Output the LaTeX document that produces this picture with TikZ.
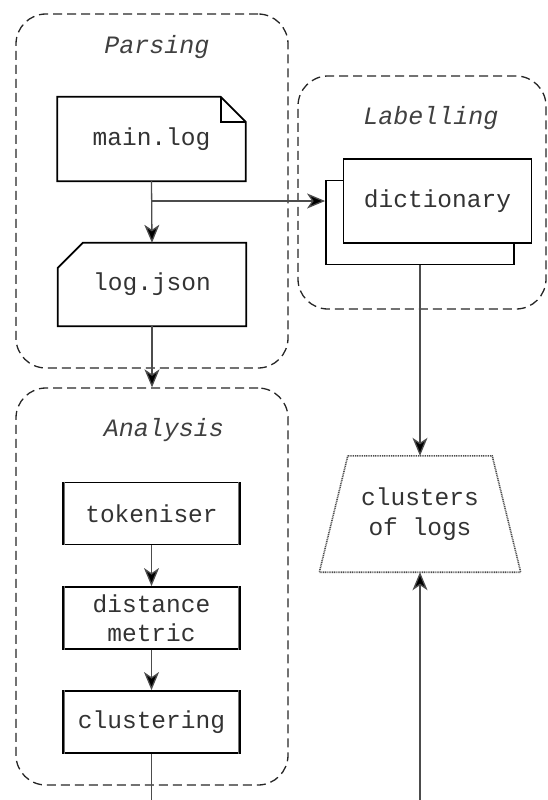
\documentclass[tikz,border=0pt]{standalone}
\usepackage{fontspec}
\setmonofont{Liberation Mono}
\usetikzlibrary{arrows.meta,calc}

\tikzset{
  x=1pt, y=-1pt,
  group/.style={draw=black!85, line width=1.3pt, dash pattern=on 9pt off 5pt,
    rounded corners=30pt, minimum width=#1, inner sep=0pt},
  grouptitle/.style={font=\ttfamily\itshape\fontsize{25}{28}\selectfont, text=black!75},
  boxtext/.style={font=\ttfamily\fontsize{24.5}{29.5}\selectfont, text=black!80,
    inner sep=0pt, align=center},
  docbox/.style={boxtext, minimum width=188pt, minimum height=84pt},
  procbox/.style={boxtext, draw=black, line width=1.8pt, fill=white,
    minimum width=177pt, minimum height=62pt},
  stackbox/.style={boxtext, draw=black, line width=1.8pt, fill=white,
    minimum width=188pt, minimum height=84pt},
  edge/.style={draw=black!70, line width=1.3pt},
  arr/.style={edge, -{Stealth[length=18pt, width=15pt, inset=5pt, fill=black]}},
  outline/.style={draw=black, line width=1.8pt, line join=miter},
}

\begin{document}
\begin{tikzpicture}
\useasboundingbox (0,0) rectangle (547,800);
\clip (0,0) rectangle (547,800);

% ---------- group frames ----------
\node[group=272pt, minimum height=354pt] (parsing) at (152,191) {};
\node[group=248pt, minimum height=233pt] (labelling) at (422,192.5) {};
\node[group=272pt, minimum height=397pt] (analysis) at (152,586.5) {};

\node[grouptitle] at (157,47) {Parsing};
\node[grouptitle] at (431,118) {Labelling};
\node[grouptitle] at (164,430) {Analysis};

% ---------- parsing ----------
\node[docbox] (mainlog) at (151.5,139) {main.log};
\draw[outline, fill=white]
  (mainlog.north west) -- ([xshift=-25pt]mainlog.north east)
  -- ([yshift=-25pt]mainlog.north east) -- (mainlog.south east)
  -- (mainlog.south west) -- cycle;
\draw[outline] ([xshift=-25pt]mainlog.north east)
  -- ([xshift=-25pt, yshift=-25pt]mainlog.north east)
  -- ([yshift=-25pt]mainlog.north east);
\node[docbox] at (mainlog.center) {main.log};

\node[docbox, minimum height=83pt] (logjson) at (152,284.5) {log.json};
\draw[outline]
  ([xshift=25pt]logjson.north west) -- (logjson.north east)
  -- (logjson.south east) -- (logjson.south west)
  -- ([yshift=-25pt]logjson.north west) -- cycle;

% ---------- labelling ----------
\node[stackbox] (dictback) at (420,222.5) {};
\node[stackbox] (dict) at (437.5,201) {dictionary};

% ---------- analysis ----------
\node[procbox] (token) at (151.5,513.5) {tokeniser};
\node[procbox] (dist) at (151.5,618) {distance\\metric};
\node[procbox] (clust) at (151.5,722) {clustering};
\foreach \n in {token,dist,clust}{
  \draw[black!55, line width=1.2pt]
    ([xshift=2.2pt]\n.north west) -- ([xshift=2.2pt]\n.south west);
  \draw[black!55, line width=1.2pt]
    ([xshift=-2.2pt]\n.north east) -- ([xshift=-2.2pt]\n.south east);
}

% ---------- result ----------
\node[boxtext, minimum width=201pt, minimum height=116pt] (clusters) at (420,514)
  {clusters\\of logs};
\draw[black!70, line width=1.6pt, dash pattern=on 1pt off 0.8pt]
  ([xshift=28.5pt]clusters.north west) -- ([xshift=-28.5pt]clusters.north east)
  -- (clusters.south east) -- (clusters.south west) -- cycle;

% ---------- connectors ----------
\coordinate (branch) at (152,201);
\coordinate (below) at (300,840);

\draw[arr] (mainlog.south) -- (logjson.north);
\draw[arr] (branch) -- (branch -| dictback.west);
\draw[arr] (logjson.south) -- (analysis.north);
\draw[arr] (dictback.south) -- (clusters.north);
\draw[arr] (token.south) -- (dist.north);
\draw[arr] (dist.south) -- (clust.north);
\draw[arr] (clust.south) |- (below) -| (clusters.south);
\end{tikzpicture}
\end{document}
